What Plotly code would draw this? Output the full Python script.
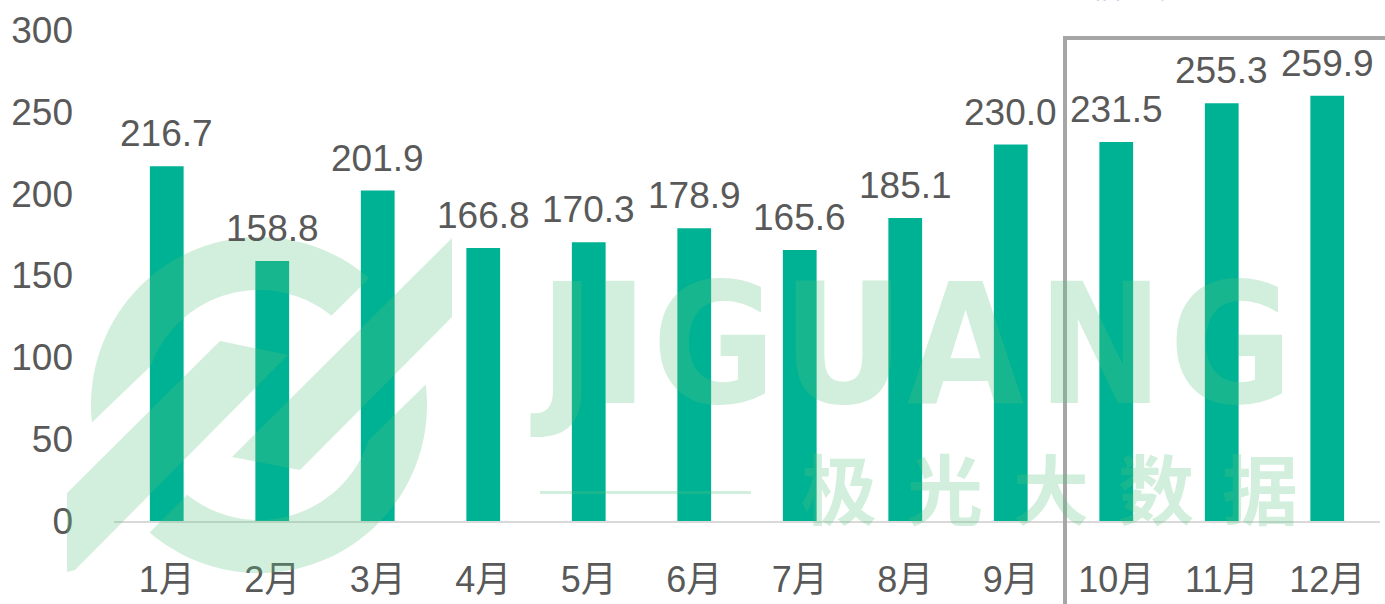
import numpy as np
import plotly.graph_objects as go

months = ["1月", "2月", "3月", "4月", "5月", "6月", "7月", "8月", "9月", "10月", "11月", "12月"]
values = [216.7, 158.8, 201.9, 166.8, 170.3, 178.9, 165.6, 185.1, 230.0, 231.5, 255.3, 259.9]
y_ticks = [0, 50, 100, 150, 200, 250, 300]

W, H = 1385, 604
OFF = 0  # body margin removed below
# plot area in page pixels
PL, PR, PT, PB = 114, 1380, 30, 521
ML, MT = PL - OFF, PT - OFF
MR, MB = W - (PR - OFF), H - (PB - OFF)
PW, PH = PR - PL, PB - PT

def px(x, y):
    return (x - PL) / PW, (PB - y) / PH

FONT = "Arial, Liberation Sans, Noto Sans CJK SC, sans-serif"
WM = "rgba(90,191,124,0.27)"

fig = go.Figure()
fig.add_trace(go.Bar(x=months, y=values, marker_color="#00B294", marker_line_width=0,
                     hoverinfo="skip"))

annotations = []
for m, v in zip(months, values):
    annotations.append(dict(x=m, y=v, text=f"{v:.1f}", showarrow=False, yanchor="bottom",
                            yshift=10, font=dict(size=37, color="#595959", family=FONT)))

shapes = []

def poly(points):
    pts = [px(x, y) for x, y in points]
    d = "M " + " L ".join(f"{a:.5f},{b:.5f}" for a, b in pts) + " Z"
    return dict(type="path", path=d, xref="paper", yref="paper", fillcolor=WM,
                line=dict(width=0), layer="above")

# watermark logo (pixel geometry)
cx, cy, R, r = 259, 405, 168, 115
def ring(a0, a1, b0, b1):
    ao = np.radians(np.linspace(a0, a1, 60))
    ai = np.radians(np.linspace(b1, b0, 60))
    pts = [(cx + R * np.cos(a), cy - R * np.sin(a)) for a in ao]
    pts += [(cx + r * np.cos(a), cy - r * np.sin(a)) for a in ai]
    return pts
shapes.append(poly(ring(186, 49, 160, 51)))
shapes.append(poly(ring(7, -130.6, -18, -128.7)))
shapes.append(poly([(67, 493), (220, 341), (288, 355), (75, 570), (67, 572)]))
shapes.append(poly([(232, 457), (452, 238), (452, 317), (300, 470)]))
x0, y0 = px(540, 491)
x1, y1 = px(751, 494)
shapes.append(dict(type="rect", xref="paper", yref="paper", x0=x0, x1=x1, y0=y0, y1=y1,
                   fillcolor=WM, line=dict(width=0), layer="above"))

letters = [("J", 562), ("I", 620), ("G", 714), ("U", 843), ("A", 965), ("N", 1100), ("G", 1231)]
for ch, xc in letters:
    xp, yp = px(xc, 345)
    annotations.append(dict(xref="paper", yref="paper", x=xp, y=yp, text=f"<b>{ch}</b>",
                            showarrow=False, xanchor="center", yanchor="middle",
                            font=dict(size=168, color=WM,
                                      family="DejaVu Sans Condensed, Liberation Sans Narrow, Liberation Sans")))
for ch, xc in zip("极光大数据", [839, 945, 1051, 1156, 1260]):
    xp, yp = px(xc, 486)
    annotations.append(dict(xref="paper", yref="paper", x=xp, y=yp, text=f"<b>{ch}</b>",
                            showarrow=False, xanchor="center", yanchor="middle",
                            font=dict(size=76, color=WM, family="Noto Sans CJK SC")))

bx0, by1 = px(1065, 38)
bx1, by0 = px(1400, 640)
shapes.append(dict(type="rect", xref="paper", yref="paper", x0=bx0, x1=bx1, y0=by0, y1=by1,
                   line=dict(color="#A6A6A6", width=4), fillcolor="rgba(0,0,0,0)", layer="above"))

tx, ty = px(1155, 8)
annotations.append(dict(xref="paper", yref="paper", x=tx, y=ty, text="估值 预测", showarrow=False,
                        xanchor="center", yanchor="bottom",
                        font=dict(size=30, color="#4B3FA8", family="Noto Sans CJK SC")))

fig.update_layout(
    width=W, height=H,
    margin=dict(l=ML, r=MR, t=MT, b=MB, pad=0, autoexpand=False),
    paper_bgcolor="white", plot_bgcolor="white",
    bargap=0.68, showlegend=False,
    shapes=shapes, annotations=annotations,
    font=dict(family=FONT, color="#595959"),
)
fig.update_xaxes(showline=True, linecolor="#D9D9D9", linewidth=2, showgrid=False,
                 ticks="", tickfont=dict(size=36, color="#595959", family=FONT),
                 ticklabelstandoff=26, zeroline=False, automargin=False)
fig.update_yaxes(range=[0, 300], tickvals=y_ticks, showgrid=False, zeroline=False,
                 showline=False, ticks="", tickfont=dict(size=37, color="#595959", family=FONT),
                 ticklabelstandoff=40, automargin=False)

fig.write_html("out.html", config={"displayModeBar": False},
               post_script="document.body.style.margin='0';")
